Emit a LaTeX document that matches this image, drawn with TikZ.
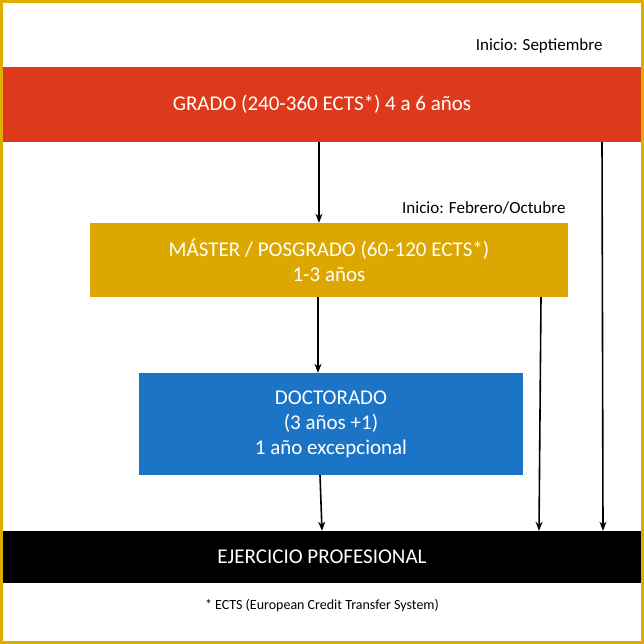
\documentclass[tikz,border=0pt]{standalone}
\usepackage{fontspec}
\setmainfont{Carlito}
\usetikzlibrary{arrows.meta,calc}
\definecolor{gredc}{HTML}{DD3A1B}
\definecolor{gmust}{HTML}{DCA700}
\definecolor{gblue}{HTML}{1C74C7}
\definecolor{gframe}{HTML}{E0AC00}
\begin{document}
\begin{tikzpicture}[x=1pt,y=-1pt,
  box/.style={draw=none,inner sep=0pt,text=white,font=\fontsize{21}{25}\selectfont,align=center},
  arr/.style={-{Stealth[length=9pt,width=7pt]},line width=1.6pt}]
\fill[white] (0,0) rectangle (644,644);
\draw[gframe,line width=3pt] (1.5,1.5) rectangle (642.5,642.5);
\node[box,fill=gredc,minimum width=638pt,minimum height=75pt] (g) at (322,104.5) {GRADO (240-360 ECTS*) 4 a 6 años};
\node[box,fill=gmust,minimum width=478pt,minimum height=74pt] (m) at (329,260) {MÁSTER / POSGRADO (60-120 ECTS*)\\1-3 años};
\node[box,fill=gblue,minimum width=384pt,minimum height=102pt] (d) at (331,424) {DOCTORADO\\(3 años +1)\\1 año excepcional};
\node[box,fill=black,minimum width=638pt,minimum height=52pt] (e) at (322,557) {EJERCICIO PROFESIONAL};
\node[font=\fontsize{17}{20}\selectfont,anchor=east] (l1) at (606,46) {Inicio: Septiembre};
\node[font=\fontsize{17}{20}\selectfont,anchor=east] (l2) at (569,208) {Inicio: Febrero/Octubre};
\node[font=\fontsize{14}{17}\selectfont] (fn) at (322,606) {* ECTS (European Credit Transfer System)};
\draw[arr] ($(g.south)+(-3,0)$) -- ($(m.north)+(-10,0)$);
\draw[arr] ($(m.south)+(-11,0)$) -- ($(d.north)+(-13,0)$);
\draw[arr] ($(d.south)+(-11,0)$) -- ($(e.north)+(0,0)$);
\draw[arr] ($(m.south)+(212,0)$) -- ($(e.north)+(217,0)$);
\draw[arr] ($(g.south)+(280,0)$) -- ($(e.north)+(281,0)$);
\end{tikzpicture}
\end{document}
